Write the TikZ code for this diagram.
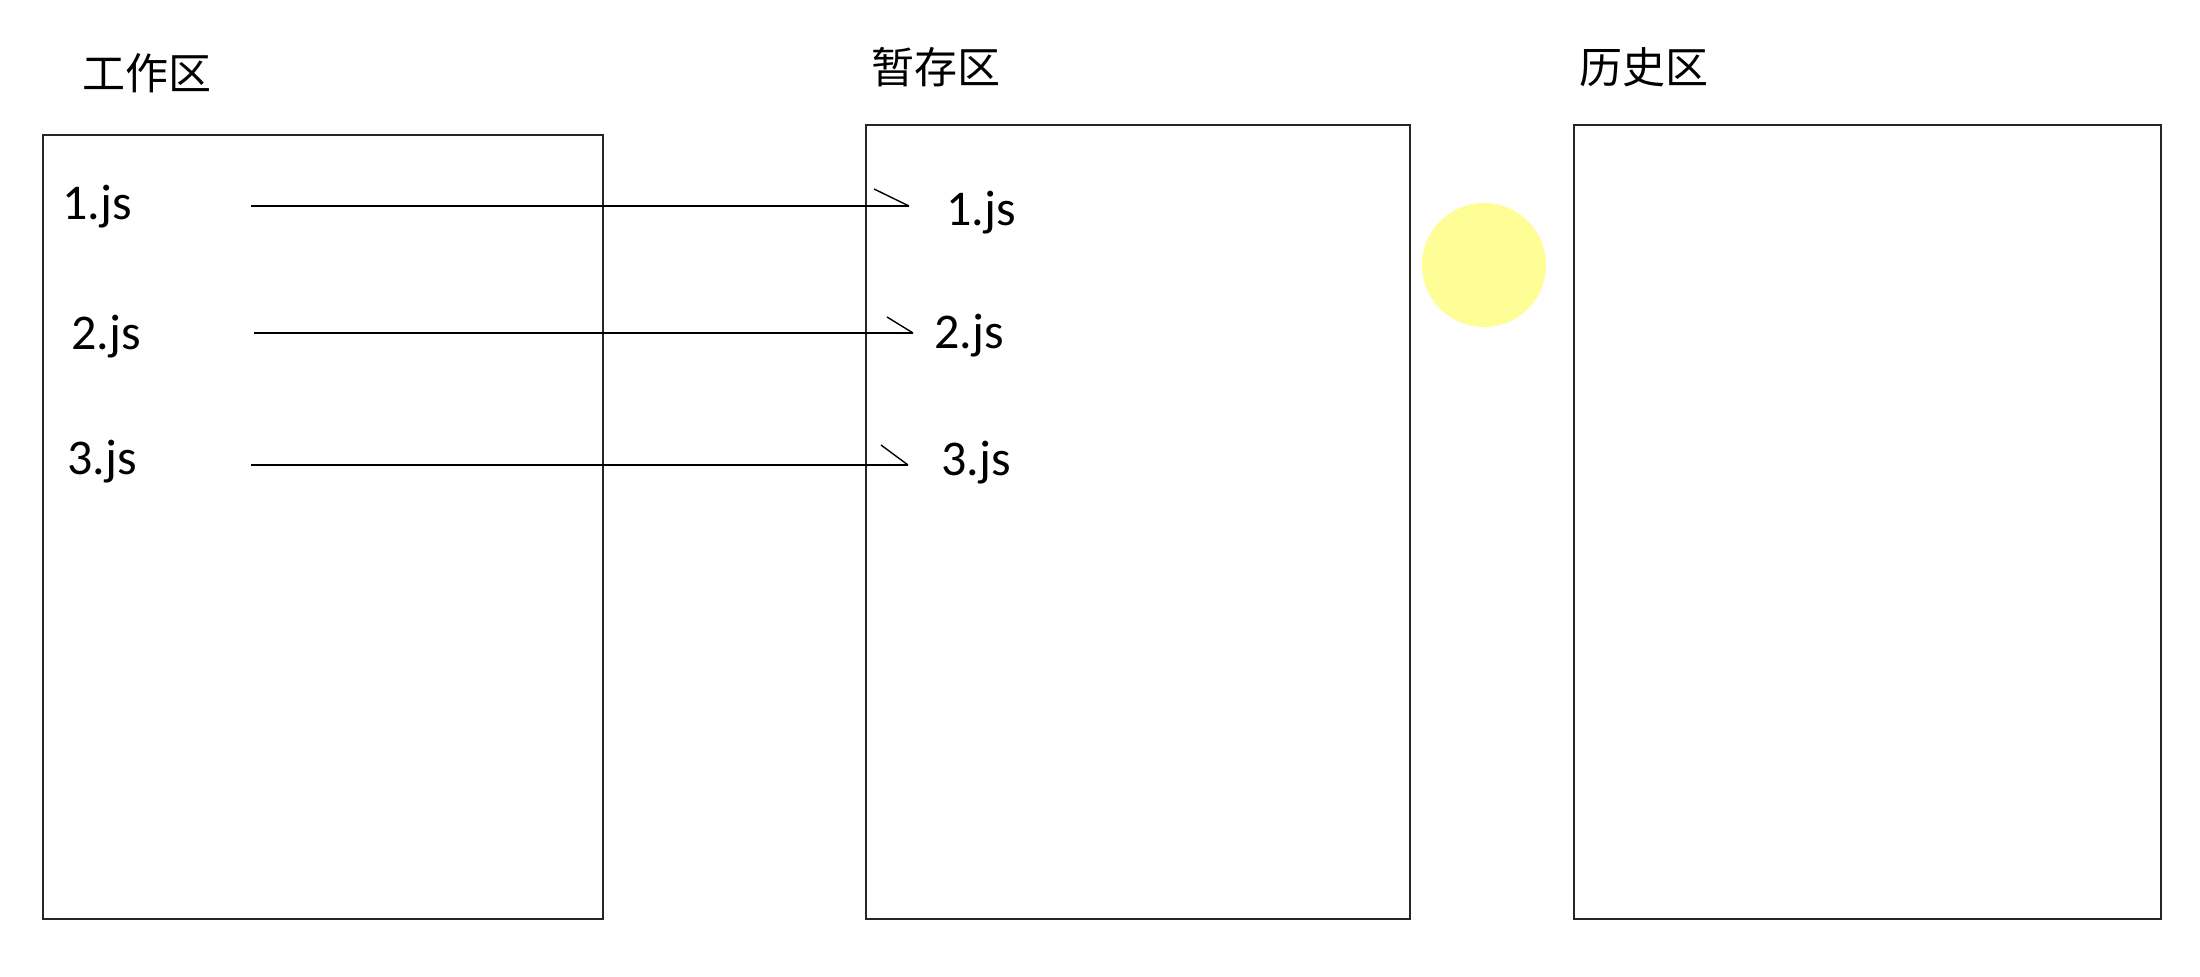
\documentclass[tikz,border=0pt]{standalone}
\usepackage{fontspec}
\setmainfont{Carlito}
\newfontfamily\cjk{Noto Sans CJK SC}
\definecolor{sunny}{RGB}{255,253,150}
\begin{document}
\begin{tikzpicture}[x=0.5pt,y=-0.5pt,
  area/.style={draw=black!85,line width=1.1pt},
  title/.style={font=\cjk\fontsize{21.5}{26}\selectfont,inner sep=0pt,anchor=base west},
  file/.style={font=\fontsize{25}{30}\selectfont,inner sep=0pt,anchor=base west},
  link/.style={draw=black,line width=0.9pt},
  barb/.style={draw=black,line width=0.7pt}]
\useasboundingbox (0,0) rectangle (2200,977);
\fill[white] (0,0) rectangle (2200,977);
% areas
\draw[area] (43,135) rectangle (603,919);
\draw[area] (866,125) rectangle (1410,919);
\draw[area] (1574,125) rectangle (2161,919);
% titles
\node[title] (t1) at (82,90) {工作区};
\node[title] (t2) at (871,84) {暂存区};
\node[title] (t3) at (1579,84) {历史区};
% yellow dot
\fill[sunny] (1484,265) circle (62);
% files
\node[file] (l1) at (62,220) {1.js};
\node[file] (l2) at (71,350) {2.js};
\node[file] (l3) at (67,475) {3.js};
\node[file] (r1) at (946,226) {1.js};
\node[file] (r2) at (934,349) {2.js};
\node[file] (r3) at (941,476) {3.js};
% connectors
\coordinate (s1) at (251,206); \coordinate (e1) at (909,206);
\coordinate (s2) at (254,333); \coordinate (e2) at (913,333);
\coordinate (s3) at (251,465); \coordinate (e3) at (908,465);
\draw[link] (s1) -- (e1);
\draw[barb] (e1) -- ++(-35,-17);
\draw[link] (s2) -- (e2);
\draw[barb] (e2) -- ++(-26,-16);
\draw[link] (s3) -- (e3);
\draw[barb] (e3) -- ++(-27,-20);
\end{tikzpicture}
\end{document}
